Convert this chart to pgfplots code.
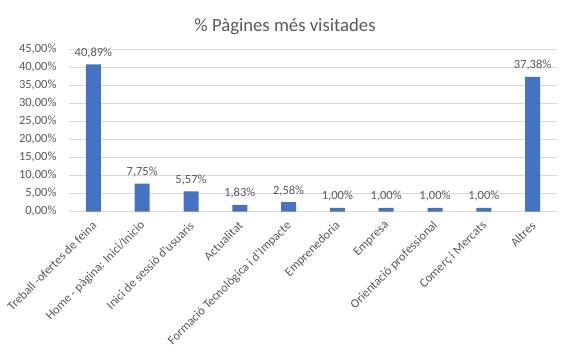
\documentclass[border=0pt]{standalone}
\usepackage{pgfplots}
\pgfplotsset{compat=1.18}
\usepackage{fontspec}
\setmainfont{Carlito}
\definecolor{barblue}{HTML}{4472C4}
\definecolor{txt}{HTML}{595959}
\definecolor{grid}{HTML}{D9D9D9}
\begin{document}
\begin{tikzpicture}
\begin{axis}[
  scale only axis,
  width=488pt, height=162pt,
  at={(0pt,0pt)}, anchor=south west,
  xmin=-0.5, xmax=9.5,
  ymin=0, ymax=45,
  ytick={0,5,10,15,20,25,30,35,40,45},
  yticklabels={{0,00\%},{5,00\%},{10,00\%},{15,00\%},{20,00\%},{25,00\%},{30,00\%},{35,00\%},{40,00\%},{45,00\%}},
  xtick={0,1,2,3,4,5,6,7,8,9},
  xticklabels={{Treball -ofertes de feina},{Home - pàgina: Inici/Inicio},{Inici de sessió d'usuaris},{Actualitat},{Formació Tecnològica i d'Impacte},{Emprenedoria},{Empresa},{Orientació professional},{Comerç i Mercats},{Altres}},
  axis x line*=bottom,
  axis y line*=left,
  y axis line style={draw=none},
  x axis line style={draw=grid, line width=0.8pt},
  major tick length=0pt,
  ymajorgrids,
  grid style={draw=grid, line width=0.8pt},
  yticklabel style={font=\fontsize{12.5}{14}\selectfont, text=txt, xshift=-9pt},
  xticklabel style={font=\fontsize{12.5}{14}\selectfont, text=txt, inner sep=0pt, shift={(1pt,-12pt)}, rotate=45, anchor=east},
  ybar, bar width=15pt,
  nodes near coords,
  point meta=explicit symbolic,
  every node near coord/.append style={font=\fontsize{12.5}{14}\selectfont, text=txt, yshift=3pt},
  clip=false,
]
\addplot[fill=barblue, draw=none] coordinates {
 (0,40.89) [40,89\%]
 (1,7.75) [7,75\%]
 (2,5.57) [5,57\%]
 (3,1.83) [1,83\%]
 (4,2.58) [2,58\%]
 (5,1.00) [1,00\%]
 (6,1.00) [1,00\%]
 (7,1.00) [1,00\%]
 (8,1.00) [1,00\%]
 (9,37.38) [37,38\%]
};
\end{axis}
\node[anchor=base, font=\fontsize{18.7}{22}\selectfont, text=txt] at (216pt,180pt) {\% Pàgines més visitades};
\useasboundingbox (-69pt,-141.5pt) rectangle (501pt,211.5pt);
\end{tikzpicture}
\end{document}
